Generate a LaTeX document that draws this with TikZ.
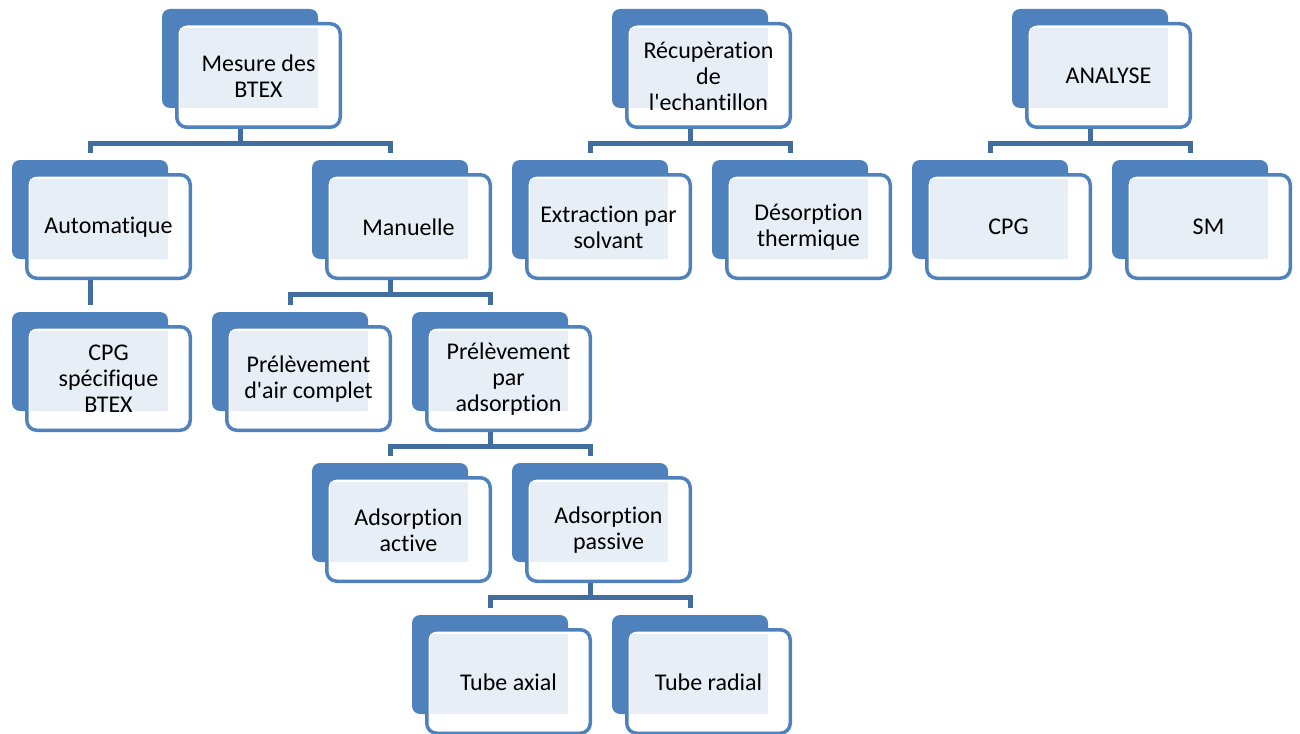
\documentclass[tikz,border=0pt]{standalone}
\usepackage{fontspec}
\setmainfont{Carlito}[Ligatures=NoCommon]
\usetikzlibrary{calc}
\definecolor{boxblue}{RGB}{79,129,189}
\definecolor{connblue}{RGB}{65,110,158}
\definecolor{texfill}{RGB}{232,238,246}
\tikzset{
  backbox/.style={fill=boxblue, draw=none, rounded corners=8pt, inner sep=0pt, outer sep=0pt, minimum width=156pt, minimum height=99pt},
  frontbox/.style={fill=white, draw=boxblue, line width=3.5pt, rounded corners=10pt, inner sep=0pt, minimum width=163.5pt, minimum height=103.5pt},
  texarea/.style={fill=texfill},
  lbl/.style={align=center, inner sep=0pt, font=\fontsize{24}{26}\selectfont, text=black},
  conn/.style={draw=connblue, line width=5pt}
}
\newcommand{\smbox}[4]{%
  \node[backbox, anchor=north west] (#1B) at (#2-13,#3-13) {};
  \node[frontbox, anchor=north west] (#1) at (#2,#3) {};
  \fill[texarea] (#2+5,#3+6) rectangle (#2+143,#3+86);
  \node[lbl] (#1T) at (#2+83.5,#3+54) {#4};
}
\newcommand{\smconn}[2]{%
  \draw[conn] (#1B.center |- #1.south) -- ++(0,14) -| ($(#2B.north)+(0,-7)$);
}
\begin{document}
\begin{tikzpicture}[x=1pt,y=-1pt]
\useasboundingbox (0,0) rectangle (1300,733);
\smbox{mes}{175}{22}{Mesure des\\BTEX}
\smbox{rec}{625}{22}{Récupèration\\de\\l\textquotesingle echantillon}
\smbox{ana}{1025}{22}{ANALYSE}
\smbox{aut}{25}{173}{Automatique}
\smbox{man}{325}{173}{Manuelle}
\smbox{ext}{525}{173}{Extraction par\\solvant}
\smbox{des}{725}{173}{Désorption\\thermique}
\smbox{cpg}{925}{173}{CPG}
\smbox{sm}{1125}{173}{SM}
\smbox{cps}{25}{325}{CPG\\spécifique\\BTEX}
\smbox{pac}{225}{325}{Prélèvement\\d\textquotesingle air complet}
\smbox{ppa}{425}{325}{Prélèvement\\par\\adsorption}
\smbox{aac}{325}{476}{Adsorption\\active}
\smbox{apa}{525}{476}{Adsorption\\passive}
\smbox{tax}{425}{628}{Tube axial}
\smbox{tra}{625}{628}{Tube radial}
\smconn{mes}{aut}
\smconn{mes}{man}
\smconn{rec}{ext}
\smconn{rec}{des}
\smconn{ana}{cpg}
\smconn{ana}{sm}
\smconn{aut}{cps}
\smconn{man}{pac}
\smconn{man}{ppa}
\smconn{ppa}{aac}
\smconn{ppa}{apa}
\smconn{apa}{tax}
\smconn{apa}{tra}
\end{tikzpicture}
\end{document}
